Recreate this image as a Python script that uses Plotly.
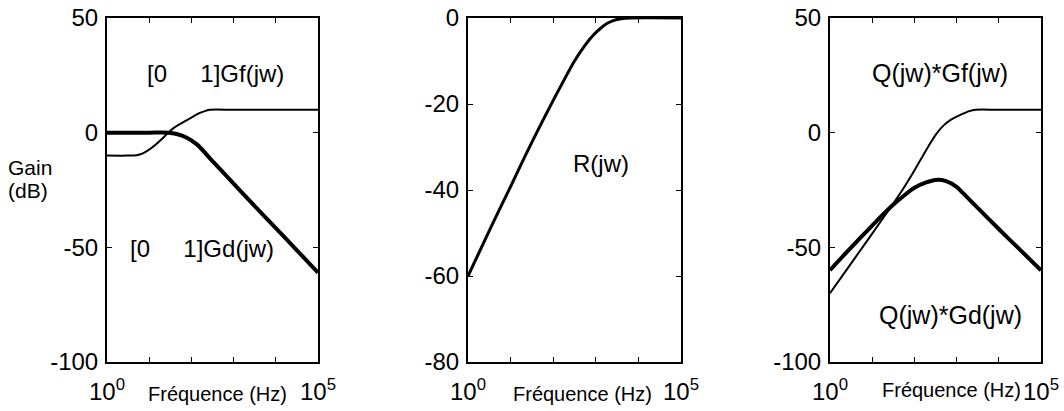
import plotly.graph_objects as go

# ---- data (log10 of frequency in Hz, gain in dB) ----
gf_dec = [0, 0.5, 0.7, 0.85, 1.0, 1.15, 1.3, 1.45, 1.6, 1.81, 2.0, 2.2, 2.35, 2.44, 3.0, 4.0, 5.0]
gf_db = [-10, -10, -9.8, -9.0, -7.4, -5.3, -2.8, 0, 2.3, 4.6, 6.6, 8.6, 9.6, 10, 10, 10, 10]

gd_dec = [0, 1.0, 1.45, 1.65, 1.89, 2.13, 2.5, 3.0, 3.5, 4.0, 4.5, 5.0]
gd_db = [0, 0, 0, -0.6, -2.2, -5.1, -12.4, -22.2, -32, -41.6, -51.3, -61]

r_dec = [0, 0.59, 1.0, 1.38, 1.93, 2.25, 2.5, 2.75, 2.95, 3.1, 3.26, 3.41, 3.6, 3.8, 5.0]
r_db = [-60, -47.6, -39.2, -31.3, -20.5, -14.5, -10.0, -6.3, -3.9, -2.5, -1.3, -0.6, -0.15, 0, 0]

qf_dec = [0, 0.35, 0.7, 1.0, 1.45, 1.75, 2.0, 2.25, 2.38, 2.52, 2.7, 2.85, 3.0, 3.17, 3.3, 3.45, 4.0, 5.0]
qf_db = [-70, -60.9, -51.8, -44, -32.2, -24, -16.5, -8.5, -4.5, -0.5, 3.3, 5.5, 7.0, 8.4, 9.4, 10, 10, 10]

qd_dec = [0, 0.35, 0.7, 1.0, 1.45, 1.75, 2.0, 2.28, 2.5, 2.75, 3.0, 3.16, 3.5, 4.0, 4.5, 5.0]
qd_db = [-60, -53, -46.2, -40.5, -32.2, -27.5, -24, -21.7, -20.6, -21.1, -23.6, -26.5, -32.8, -42, -51, -60]

x_label_vals = [1, 100000]
x_label_text = ["10<sup>0</sup>", "10<sup>5</sup>"]
x_decade_ticks = [10, 100, 1000, 10000]
y_ticks_1 = [50, 0, -50, -100]
y_ticks_2 = [0, -20, -40, -60, -80]
y_ticks_3 = [50, 0, -50, -100]

W, H = 1064, 411
FONT = "Liberation Sans, Arial, Helvetica, sans-serif"


def hz(decades):
    return [10 ** d for d in decades]


def px(x, y):
    return x / W, 1 - y / H


fig = go.Figure()
fig.add_trace(go.Scatter(x=hz(gf_dec), y=gf_db, mode="lines", xaxis="x", yaxis="y",
                         line=dict(color="black", width=2, shape="spline", smoothing=0.8)))
fig.add_trace(go.Scatter(x=hz(gd_dec), y=gd_db, mode="lines", xaxis="x", yaxis="y",
                         line=dict(color="black", width=4, shape="spline", smoothing=0.8)))
fig.add_trace(go.Scatter(x=hz(r_dec), y=r_db, mode="lines", xaxis="x2", yaxis="y2",
                         line=dict(color="black", width=3, shape="spline", smoothing=0.8)))
fig.add_trace(go.Scatter(x=hz(qf_dec), y=qf_db, mode="lines", xaxis="x3", yaxis="y3",
                         line=dict(color="black", width=2, shape="spline", smoothing=0.8)))
fig.add_trace(go.Scatter(x=hz(qd_dec), y=qd_db, mode="lines", xaxis="x3", yaxis="y3",
                         line=dict(color="black", width=4, shape="spline", smoothing=0.8)))

ydom = [1 - 362 / H, 1 - 18 / H]
xdoms = [[107 / W, 318 / W], [468 / W, 681 / W], [830 / W, 1041 / W]]
yranges = [[-100, 50], [-80, 0], [-100, 50]]
yticks = [y_ticks_1, y_ticks_2, y_ticks_3]

common_axis = dict(showline=True, linecolor="black", linewidth=2, mirror="allticks",
                   ticks="inside", ticklen=5, tickwidth=1, tickcolor="black",
                   showgrid=False, zeroline=False, automargin=False,
                   tickfont=dict(family=FONT, size=24, color="black"))

layout = dict(width=W, height=H, margin=dict(l=0, r=0, t=0, b=0),
              paper_bgcolor="white", plot_bgcolor="white", showlegend=False,
              font=dict(family=FONT, color="black"))
for i in range(3):
    sfx = "" if i == 0 else str(i + 1)
    layout["xaxis" + sfx] = dict(common_axis, type="log", range=[0, 5], domain=xdoms[i],
                                 anchor="y" + sfx, tickvals=x_label_vals, ticktext=x_label_text,
                                 ticklabelstandoff=7,
                                 minor=dict(tickmode="array", tickvals=x_decade_ticks,
                                            ticks="inside", ticklen=5, tickwidth=1,
                                            tickcolor="black", showgrid=False))
    layout["yaxis" + sfx] = dict(common_axis, range=yranges[i], domain=ydom,
                                 anchor="x" + sfx, tickvals=yticks[i],
                                 ticktext=[str(v) for v in yticks[i]], ticklabelstandoff=2)
fig.update_layout(**layout)

sp = "&nbsp;" * 5
notes = [
    (215, 73, "[0" + sp + "1]Gf(jw)", 24),
    (202, 248, "[0" + sp + "1]Gd(jw)", 24),
    (601, 163, "R(jw)", 24),
    (940, 73, "Q(jw)*Gf(jw)", 25),
    (950, 315, "Q(jw)*Gd(jw)", 25),
    (217, 394, "Fréquence (Hz)", 20),
    (582, 394, "Fréquence (Hz)", 20),
    (951, 390, "Fréquence (Hz)", 20),
    (30, 167, "Gain", 21),
    (28, 190, "(dB)", 21),
]
for x, y, t, s in notes:
    ax, ay = px(x, y)
    fig.add_annotation(x=ax, y=ay, xref="paper", yref="paper", text=t, showarrow=False,
                       xanchor="center", yanchor="middle",
                       font=dict(family=FONT, size=s, color="black"))

fig.write_html("out.html", config={"displayModeBar": False},
               post_script="document.body.style.margin='0';document.body.style.overflow='hidden';")
